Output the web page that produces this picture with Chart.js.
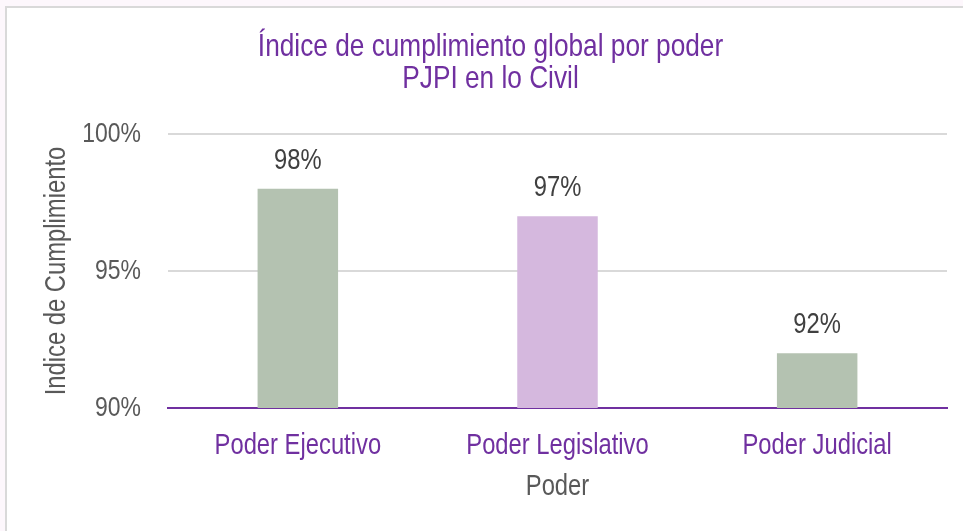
<!DOCTYPE html>
<html>
<head>
<meta charset="utf-8">
<script src="https://cdn.jsdelivr.net/npm/chart.js@4.4.0/dist/chart.umd.min.js"></script>
<style>
  html, body { margin: 0; padding: 0; background: #fdf7fc; width: 963px; height: 531px; overflow: hidden; }
  #frame { position: absolute; left: 5px; top: 6px; width: 990px; height: 560px; background: #ffffff; border-left: 2px solid #d9d9d9; border-top: 2px solid #d9d9d9; }
  #wrap { position: absolute; left: 0; top: 0; width: 963px; height: 531px; }
</style>
</head>
<body>
<div id="frame"></div>
<div id="wrap"><canvas id="c" width="963" height="531"></canvas></div>
<script>
const categories = ["Poder Ejecutivo", "Poder Legislativo", "Poder Judicial"];
const values = [0.98, 0.97, 0.92];
const valueLabels = ["98%", "97%", "92%"];
const barColors = ["#b4c2b1", "#d5b8de", "#b4c2b1"];
const yTicks = [0.90, 0.95, 1.00];
const titleLines = ["Índice de cumplimiento global por poder", "PJPI en lo Civil"];
const yTitle = "Indice de Cumplimiento";
const xTitle = "Poder";

const FONT = "'Liberation Sans', Arial, sans-serif";
const PURPLE = "#7030a0";
const GRAY = "#595959";
const NARROW = 0.82; // emulate a narrow (condensed) face

// Condensed text: scale glyphs horizontally in the text's own direction.
const canvas = document.getElementById('c');
const ctx0 = canvas.getContext('2d');
const origFill = ctx0.fillText.bind(ctx0);
const origMeasure = ctx0.measureText.bind(ctx0);
ctx0.fillText = function (t, x, y, mw) {
  this.save();
  this.translate(x, y);
  this.scale(NARROW, 1);
  origFill(t, 0, 0);
  this.restore();
};
ctx0.measureText = function (t) {
  const m = origMeasure(t);
  return {
    width: m.width * NARROW,
    actualBoundingBoxAscent: m.actualBoundingBoxAscent,
    actualBoundingBoxDescent: m.actualBoundingBoxDescent,
    actualBoundingBoxLeft: m.actualBoundingBoxLeft * NARROW,
    actualBoundingBoxRight: m.actualBoundingBoxRight * NARROW
  };
};

const dataLabelPlugin = {
  id: 'dataLabels',
  afterDatasetsDraw(chart) {
    const ctx = chart.ctx;
    const meta = chart.getDatasetMeta(0);
    ctx.save();
    ctx.font = "29px " + FONT;
    ctx.fillStyle = "#404040";
    ctx.textAlign = "center";
    ctx.textBaseline = "middle";
    meta.data.forEach((bar, i) => {
      ctx.fillText(valueLabels[i], bar.x, bar.y - 28);
    });
    ctx.restore();
  }
};

new Chart(canvas, {
  type: 'bar',
  data: {
    labels: categories,
    datasets: [{
      data: values,
      backgroundColor: barColors,
      borderWidth: 0,
      barPercentage: 0.62,
      categoryPercentage: 0.5
    }]
  },
  options: {
    responsive: false,
    animation: false,
    devicePixelRatio: 1,
    layout: { padding: { left: 34, right: 16, top: 0, bottom: 0 } },
    plugins: {
      legend: { display: false },
      tooltip: { enabled: false },
      title: {
        display: true,
        text: titleLines,
        color: PURPLE,
        font: { family: FONT, size: 32, weight: 'normal', lineHeight: 1.0 },
        padding: { top: 31, bottom: 39 }
      }
    },
    scales: {
      x: {
        grid: { display: false, drawTicks: false },
        border: { display: true, color: PURPLE, width: 2 },
        ticks: { color: PURPLE, font: { family: FONT, size: 29 }, padding: 21, maxRotation: 0 },
        title: { display: true, text: xTitle, color: GRAY, font: { family: FONT, size: 29 }, padding: { top: 27, bottom: 27 } },
        afterFit(scale) { scale.height = 123; }
      },
      y: {
        min: 0.90,
        max: 1.00,
        afterBuildTicks(scale) { scale.ticks = yTicks.map(v => ({ value: v })); },
        grid: { color: "#d9d9d9", lineWidth: 2, drawTicks: false },
        border: { display: false },
        ticks: {
          color: GRAY,
          font: { family: FONT, size: 28 },
          padding: 27,
          callback: (v) => Math.round(v * 100) + "%"
        },
        title: { display: true, text: yTitle, color: GRAY, font: { family: FONT, size: 29 }, padding: { top: 6, bottom: 6 } },
        afterFit(scale) { scale.width = 134; }
      }
    }
  },
  plugins: [dataLabelPlugin]
});
</script>
</body>
</html>
